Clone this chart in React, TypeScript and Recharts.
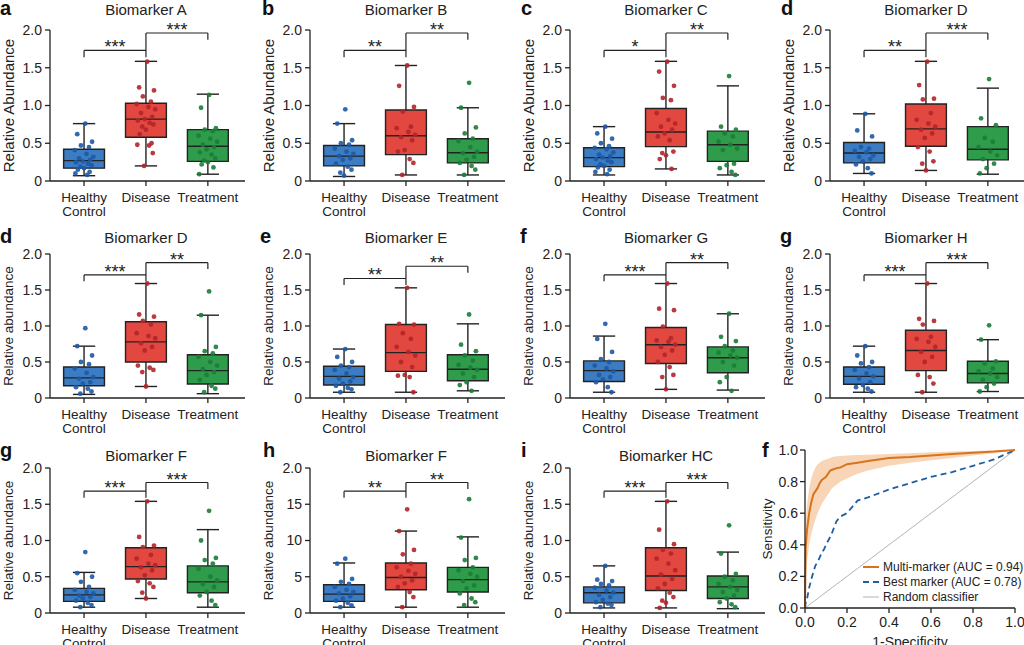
import React from 'react';
import {
  ComposedChart,
  Scatter,
  XAxis,
  YAxis,
  ReferenceArea,
  ReferenceLine,
  Line,
  Area,
  Legend,
} from 'recharts';

// ---------- groups ----------
const GROUPS = ['Healthy Control', 'Disease', 'Treatment'];
const GROUP_FILL = ['#3b7cc2', '#e2483f', '#2f9c4b'];
const GROUP_DOT = ['#1d5aa6', '#b3252a', '#1b7d38'];
const INK = '#222';

// box summaries per group: [low whisker, q1, median, q3, high whisker]
const A_BOX = [[0.07, 0.17, 0.27, 0.42, 0.76], [0.2, 0.58, 0.82, 1.03, 1.585], [0.09, 0.26, 0.46, 0.68, 1.15]];
const A_HC = [0.76, 0.62, 0.52, 0.47, 0.45, 0.41, 0.36, 0.32, 0.3, 0.28, 0.26, 0.25, 0.23, 0.21, 0.19, 0.17, 0.15, 0.12, 0.1, 0.08];
const A_DZ = [1.58, 1.24, 1.2, 1.12, 1.05, 1.02, 0.98, 0.95, 0.9, 0.85, 0.82, 0.8, 0.77, 0.75, 0.72, 0.68, 0.62, 0.5, 0.48, 0.47, 0.37, 0.2];
const A_TX = [1.14, 0.97, 0.7, 0.68, 0.66, 0.6, 0.56, 0.52, 0.48, 0.45, 0.42, 0.38, 0.35, 0.3, 0.27, 0.25, 0.22, 0.18, 0.09];

const B_BOX = [[0.06, 0.2, 0.33, 0.47, 0.76], [0.08, 0.35, 0.6, 0.94, 1.53], [0.08, 0.24, 0.375, 0.56, 0.97]];
const B_HC = [0.95, 0.76, 0.54, 0.5, 0.48, 0.43, 0.39, 0.36, 0.33, 0.3, 0.28, 0.23, 0.19, 0.15, 0.11, 0.07];
const B_DZ = [1.53, 1.26, 0.98, 0.92, 0.72, 0.7, 0.65, 0.61, 0.58, 0.54, 0.41, 0.39, 0.29, 0.24, 0.08];
const B_TX = [1.3, 0.97, 0.71, 0.63, 0.56, 0.53, 0.45, 0.39, 0.37, 0.32, 0.28, 0.24, 0.2, 0.15, 0.08];

const C_BOX = [[0.08, 0.19, 0.31, 0.44, 0.72], [0.16, 0.455, 0.65, 0.96, 1.585], [0.08, 0.26, 0.48, 0.66, 1.26]];
const C_HC = [0.72, 0.63, 0.56, 0.5, 0.46, 0.44, 0.42, 0.38, 0.35, 0.33, 0.31, 0.29, 0.27, 0.25, 0.22, 0.2, 0.18, 0.15, 0.12, 0.09];
const C_DZ = [1.58, 1.45, 1.26, 1.1, 1.07, 0.9, 0.81, 0.76, 0.72, 0.68, 0.63, 0.59, 0.54, 0.39, 0.37, 0.34, 0.29, 0.16];
const C_TX = [1.39, 0.72, 0.68, 0.63, 0.59, 0.52, 0.48, 0.43, 0.41, 0.23, 0.21, 0.17, 0.12, 0.08];

const D1_BOX = [[0.1, 0.24, 0.37, 0.51, 0.89], [0.14, 0.46, 0.69, 1.02, 1.585], [0.09, 0.28, 0.42, 0.72, 1.23]];
const D1_HC = [0.89, 0.67, 0.59, 0.45, 0.43, 0.4, 0.38, 0.34, 0.32, 0.29, 0.26, 0.22, 0.17, 0.1];
const D1_DZ = [1.58, 1.27, 1.09, 1.08, 0.9, 0.81, 0.76, 0.72, 0.68, 0.63, 0.57, 0.45, 0.39, 0.26, 0.23, 0.14];
const D1_TX = [1.35, 0.83, 0.74, 0.57, 0.52, 0.45, 0.39, 0.34, 0.29, 0.23, 0.17, 0.1];

const D2_BOX = [[0.05, 0.17, 0.28, 0.43, 0.72], [0.16, 0.5, 0.78, 1.06, 1.59], [0.06, 0.195, 0.38, 0.6, 1.15]];
const D2_HC = [0.97, 0.72, 0.59, 0.5, 0.47, 0.41, 0.35, 0.29, 0.27, 0.22, 0.2, 0.15, 0.13, 0.09, 0.06];
const D2_DZ = [1.59, 1.16, 1.13, 1.07, 1.02, 0.9, 0.86, 0.83, 0.76, 0.71, 0.66, 0.45, 0.42, 0.39, 0.36, 0.16];
const D2_TX = [1.48, 1.15, 0.71, 0.65, 0.62, 0.57, 0.5, 0.45, 0.4, 0.36, 0.32, 0.25, 0.17, 0.13, 0.08];

const E_BOX = [[0.08, 0.18, 0.3, 0.44, 0.68], [0.08, 0.37, 0.63, 1.02, 1.53], [0.1, 0.24, 0.4, 0.6, 1.03]];
const E_HC = [0.68, 0.57, 0.5, 0.45, 0.43, 0.39, 0.34, 0.29, 0.27, 0.23, 0.2, 0.17, 0.14, 0.12, 0.08];
const E_DZ = [1.53, 1.03, 1.02, 0.9, 0.82, 0.71, 0.64, 0.59, 0.5, 0.43, 0.32, 0.31, 0.29, 0.08];
const E_TX = [1.16, 0.74, 0.65, 0.59, 0.52, 0.46, 0.42, 0.39, 0.34, 0.29, 0.22, 0.18, 0.1];

const G_BOX = [[0.08, 0.23, 0.38, 0.515, 0.86], [0.12, 0.48, 0.74, 0.98, 1.59], [0.11, 0.35, 0.56, 0.71, 1.17]];
const G_HC = [1.03, 0.82, 0.64, 0.54, 0.5, 0.45, 0.41, 0.37, 0.32, 0.29, 0.26, 0.22, 0.15, 0.08];
const G_DZ = [1.59, 1.24, 1.22, 0.99, 0.83, 0.8, 0.78, 0.74, 0.71, 0.66, 0.6, 0.5, 0.43, 0.32, 0.29, 0.12];
const G_TX = [1.17, 0.85, 0.79, 0.72, 0.66, 0.63, 0.59, 0.56, 0.5, 0.45, 0.29, 0.22, 0.1];

const H_BOX = [[0.08, 0.19, 0.3, 0.43, 0.72], [0.08, 0.38, 0.66, 0.94, 1.59], [0.09, 0.21, 0.34, 0.51, 0.81]];
const H_HC = [0.72, 0.59, 0.5, 0.48, 0.43, 0.39, 0.34, 0.3, 0.27, 0.22, 0.18, 0.15, 0.13, 0.09];
const H_DZ = [1.59, 1.1, 1.07, 1.02, 0.85, 0.82, 0.78, 0.71, 0.64, 0.57, 0.5, 0.32, 0.29, 0.2, 0.08];
const H_TX = [1.01, 0.81, 0.51, 0.48, 0.41, 0.37, 0.34, 0.29, 0.25, 0.2, 0.15, 0.09];

const F1_BOX = [[0.08, 0.16, 0.25, 0.34, 0.56], [0.2, 0.47, 0.64, 0.9, 1.54], [0.08, 0.28, 0.43, 0.65, 1.15]];
const F1_HC = [0.84, 0.55, 0.5, 0.43, 0.36, 0.32, 0.29, 0.27, 0.24, 0.22, 0.2, 0.17, 0.14, 0.11, 0.08];
const F1_DZ = [1.54, 1.05, 0.93, 0.91, 0.8, 0.75, 0.68, 0.66, 0.63, 0.59, 0.52, 0.44, 0.41, 0.36, 0.28, 0.2];
const F1_TX = [1.41, 1.0, 0.76, 0.73, 0.68, 0.61, 0.5, 0.45, 0.4, 0.36, 0.29, 0.24, 0.17, 0.11];

const F2_BOX = [[0.8, 1.6, 2.6, 3.9, 6.9], [0.8, 3.2, 4.9, 6.9, 11.3], [0.8, 2.9, 4.6, 6.3, 10.5]];
const F2_HC = [7.5, 6.8, 4.7, 4.3, 4.0, 3.6, 3.2, 2.9, 2.7, 2.3, 2.0, 1.7, 1.4, 1.05, 0.8];
const F2_DZ = [14.3, 11.3, 8.7, 8.1, 6.8, 6.3, 5.8, 5.4, 5.0, 4.5, 4.1, 3.6, 2.9, 2.2, 0.8];
const F2_TX = [15.7, 10.4, 7.6, 7.3, 6.3, 5.9, 5.4, 5.0, 4.4, 3.8, 3.4, 2.7, 2.0, 1.5, 1.1];

const HC_BOX = [[0.07, 0.14, 0.28, 0.36, 0.65], [0.07, 0.31, 0.51, 0.9, 1.54], [0.06, 0.2, 0.36, 0.51, 0.84]];
const HC_HC = [0.65, 0.46, 0.44, 0.4, 0.38, 0.35, 0.31, 0.28, 0.25, 0.22, 0.18, 0.15, 0.13, 0.11, 0.08];
const HC_DZ = [1.54, 1.15, 0.95, 0.87, 0.82, 0.75, 0.68, 0.59, 0.53, 0.47, 0.4, 0.34, 0.28, 0.22, 0.17, 0.14, 0.07];
const HC_TX = [1.21, 0.82, 0.54, 0.5, 0.45, 0.4, 0.36, 0.32, 0.29, 0.24, 0.2, 0.15, 0.12, 0.08];

// y ticks
const TICKS_REL = [0, 0.5, 1, 1.5, 2];
const TICKS_F2 = [0, 5, 10, 15, 20];
const fmtRel = (v: number) => (v === 0 ? '0' : v.toFixed(1));
const fmtF2 = (v: number) => (v === 20 ? '2.0' : String(v));

// ---------- ROC curves ----------
const ROC_FPR = [0, 0.003, 0.01, 0.02, 0.03, 0.04, 0.05, 0.06, 0.07, 0.08, 0.09, 0.1, 0.12, 0.13, 0.15, 0.17, 0.2, 0.25, 0.3, 0.4, 0.5, 0.6, 0.7, 0.8, 0.9, 1];
const MULTI_TPR = [0, 0.38, 0.5, 0.6, 0.67, 0.72, 0.74, 0.76, 0.79, 0.81, 0.82, 0.83, 0.87, 0.875, 0.885, 0.89, 0.91, 0.92, 0.93, 0.95, 0.955, 0.965, 0.975, 0.983, 0.99, 1];
const MULTI_LO = [0, 0.2, 0.3, 0.4, 0.47, 0.52, 0.56, 0.6, 0.63, 0.66, 0.68, 0.7, 0.74, 0.76, 0.78, 0.8, 0.82, 0.85, 0.87, 0.9, 0.92, 0.935, 0.95, 0.965, 0.98, 1];
const MULTI_HI = [0, 0.55, 0.66, 0.76, 0.82, 0.86, 0.89, 0.91, 0.92, 0.93, 0.935, 0.94, 0.95, 0.955, 0.96, 0.962, 0.965, 0.968, 0.97, 0.975, 0.98, 0.985, 0.99, 0.993, 0.997, 1];
const BEST_TPR = [0, 0.03, 0.06, 0.13, 0.18, 0.23, 0.27, 0.29, 0.32, 0.35, 0.37, 0.4, 0.45, 0.48, 0.55, 0.58, 0.6, 0.68, 0.7, 0.75, 0.79, 0.83, 0.86, 0.9, 0.94, 1];
const ROC_TICKS = [0, 0.2, 0.4, 0.6, 0.8, 1];
const ROC_NAMES = ['Multi-marker (AUC = 0.94)', 'Best marker (AUC = 0.78)', 'Random classifier'];

// ---------- layout ----------
const FONT = '"Liberation Sans", Arial, Helvetica, sans-serif';
const PANEL_W = 260;
const ROWS = [
  { top: 0, mt: 30, plotH: 151, labelSize: 15, titleY: 15, letterY: 15 },
  { top: 215, mt: 39, plotH: 144, labelSize: 13.5, titleY: 243, letterY: 243 },
  { top: 430, mt: 38, plotH: 145, labelSize: 13.5, titleY: 461, letterY: 457 },
];
const LETTER_X = [[0, 262, 521, 781], [0, 260, 520, 780], [0, 263, 521, 762]];
const JITTER = [0.02, -0.11, 0.13, -0.05, 0.08, -0.15, 0.04, 0.15, -0.08, 0.1, -0.02, -0.13, 0.06, 0.12, -0.06, 0.0, -0.1, 0.09, -0.14, 0.05, 0.11, -0.03];
const BOX_HALF = 0.33;
const CAP_HALF = 0.18;

type Panel = {
  letter: string;
  title: string;
  yLabel: string;
  row: number;
  col: number;
  box: number[][];
  pts: number[][];
  stars: [string, string];
  brackets: [number, number];
  yMax: number;
  ticks: number[];
  fmt: (v: number) => string;
};

const PANELS: Panel[] = [
  { letter: 'a', title: 'Biomarker A', yLabel: 'Relative Abundance', row: 0, col: 0, box: A_BOX, pts: [A_HC, A_DZ, A_TX], stars: ['***', '***'], brackets: [1.73, 1.96], yMax: 2, ticks: TICKS_REL, fmt: fmtRel },
  { letter: 'b', title: 'Biomarker B', yLabel: 'Relative Abundance', row: 0, col: 1, box: B_BOX, pts: [B_HC, B_DZ, B_TX], stars: ['**', '**'], brackets: [1.73, 1.96], yMax: 2, ticks: TICKS_REL, fmt: fmtRel },
  { letter: 'c', title: 'Biomarker C', yLabel: 'Relative Abundance', row: 0, col: 2, box: C_BOX, pts: [C_HC, C_DZ, C_TX], stars: ['*', '**'], brackets: [1.73, 1.96], yMax: 2, ticks: TICKS_REL, fmt: fmtRel },
  { letter: 'd', title: 'Biomarker D', yLabel: 'Relative Abundance', row: 0, col: 3, box: D1_BOX, pts: [D1_HC, D1_DZ, D1_TX], stars: ['**', '***'], brackets: [1.73, 1.96], yMax: 2, ticks: TICKS_REL, fmt: fmtRel },
  { letter: 'd', title: 'Biomarker D', yLabel: 'Relative abundance', row: 1, col: 0, box: D2_BOX, pts: [D2_HC, D2_DZ, D2_TX], stars: ['***', '**'], brackets: [1.71, 1.88], yMax: 2, ticks: TICKS_REL, fmt: fmtRel },
  { letter: 'e', title: 'Biomarker E', yLabel: 'Relative abundance', row: 1, col: 1, box: E_BOX, pts: [E_HC, E_DZ, E_TX], stars: ['**', '**'], brackets: [1.66, 1.83], yMax: 2, ticks: TICKS_REL, fmt: fmtRel },
  { letter: 'f', title: 'Biomarker G', yLabel: 'Relative abundance', row: 1, col: 2, box: G_BOX, pts: [G_HC, G_DZ, G_TX], stars: ['***', '**'], brackets: [1.71, 1.88], yMax: 2, ticks: TICKS_REL, fmt: fmtRel },
  { letter: 'g', title: 'Biomarker H', yLabel: 'Relative abundance', row: 1, col: 3, box: H_BOX, pts: [H_HC, H_DZ, H_TX], stars: ['***', '***'], brackets: [1.71, 1.88], yMax: 2, ticks: TICKS_REL, fmt: fmtRel },
  { letter: 'g', title: 'Biomarker F', yLabel: 'Relative abundance', row: 2, col: 0, box: F1_BOX, pts: [F1_HC, F1_DZ, F1_TX], stars: ['***', '***'], brackets: [1.68, 1.8], yMax: 2, ticks: TICKS_REL, fmt: fmtRel },
  { letter: 'h', title: 'Biomarker F', yLabel: 'Relative abundance', row: 2, col: 1, box: F2_BOX, pts: [F2_HC, F2_DZ, F2_TX], stars: ['**', '**'], brackets: [16.8, 18], yMax: 20, ticks: TICKS_F2, fmt: fmtF2 },
  { letter: 'i', title: 'Biomarker HC', yLabel: 'Relative abundance', row: 2, col: 2, box: HC_BOX, pts: [HC_HC, HC_DZ, HC_TX], stars: ['***', '***'], brackets: [1.68, 1.8], yMax: 2, ticks: TICKS_REL, fmt: fmtRel },
];

function GroupTick(props: any) {
  const { x, y, payload } = props;
  const words = GROUPS[payload.value].split(' ');
  return (
    <text x={x} y={y} textAnchor="middle" fontSize={13.5} fill={INK}>
      {words.map((w, k) => (
        <tspan key={k} x={x} dy={k === 0 ? 14 : 13.5}>
          {w}
        </tspan>
      ))}
    </text>
  );
}

const seg = (x1: number, y1: number, x2: number, y2: number) => [
  { x: x1, y: y1 },
  { x: x2, y: y2 },
];

function BoxPanel({ p }: { p: Panel }) {
  const R = ROWS[p.row];
  const drop = 0.09 * (p.yMax / 2);
  const [lowB, highB] = p.brackets;
  const starLabel = (v: string) => ({ value: v, position: 'top' as const, offset: -3, fill: INK, fontSize: 18 });
  const line = { stroke: INK, strokeWidth: 1.4 };

  return (
    <div style={{ position: 'absolute', left: p.col * PANEL_W, top: R.top }}>
      <ComposedChart
        width={PANEL_W}
        height={R.mt + R.plotH + 45}
        margin={{ top: R.mt, right: 15, bottom: 0, left: 0 }}
      >
        <XAxis
          type="number"
          dataKey="x"
          domain={[-0.55, 2.6]}
          ticks={[0, 1, 2]}
          allowDataOverflow
          interval={0}
          height={45}
          tickSize={5}
          tick={<GroupTick />}
          axisLine={{ stroke: INK, strokeWidth: 1.3 }}
          tickLine={{ stroke: INK, strokeWidth: 1.3 }}
        />
        <YAxis
          type="number"
          dataKey="y"
          domain={[0, p.yMax]}
          ticks={p.ticks}
          allowDataOverflow
          interval={0}
          width={50}
          tickSize={5}
          tickMargin={3}
          tickFormatter={p.fmt}
          tick={{ fontSize: 14, fill: INK }}
          axisLine={{ stroke: INK, strokeWidth: 1.3 }}
          tickLine={{ stroke: INK, strokeWidth: 1.3 }}
          label={{
            value: p.yLabel,
            angle: -90,
            position: 'insideLeft',
            offset: 8.5,
            style: { textAnchor: 'middle', fontSize: R.labelSize, fill: INK },
          }}
        />

        {p.box.map((b, g) => (
          <ReferenceArea
            key={`box${g}`}
            x1={g - BOX_HALF}
            x2={g + BOX_HALF}
            y1={b[1]}
            y2={b[3]}
            fill={GROUP_FILL[g]}
            fillOpacity={1}
            stroke={INK}
            strokeWidth={1.4}
          />
        ))}
        {p.box.map((b, g) => (
          <ReferenceLine key={`wl${g}`} segment={seg(g, b[0], g, b[1])} {...line} />
        ))}
        {p.box.map((b, g) => (
          <ReferenceLine key={`wh${g}`} segment={seg(g, b[3], g, b[4])} {...line} />
        ))}
        {p.box.map((b, g) => (
          <ReferenceLine key={`cl${g}`} segment={seg(g - CAP_HALF, b[0], g + CAP_HALF, b[0])} {...line} />
        ))}
        {p.box.map((b, g) => (
          <ReferenceLine key={`ch${g}`} segment={seg(g - CAP_HALF, b[4], g + CAP_HALF, b[4])} {...line} />
        ))}
        {p.box.map((b, g) => (
          <ReferenceLine key={`md${g}`} segment={seg(g - BOX_HALF, b[2], g + BOX_HALF, b[2])} {...line} />
        ))}

        {/* significance brackets */}
        <ReferenceLine segment={seg(0, lowB - drop, 0, lowB)} {...line} strokeWidth={1.2} />
        <ReferenceLine segment={seg(0, lowB, 1, lowB)} {...line} strokeWidth={1.2} label={starLabel(p.stars[0])} />
        <ReferenceLine segment={seg(1, lowB - drop, 1, highB)} {...line} strokeWidth={1.2} />
        <ReferenceLine segment={seg(1, highB, 2, highB)} {...line} strokeWidth={1.2} label={starLabel(p.stars[1])} />
        <ReferenceLine segment={seg(2, highB - drop, 2, highB)} {...line} strokeWidth={1.2} />

        {p.pts.map((vals, g) => (
          <Scatter
            key={`pts${g}`}
            data={vals.map((v, j) => ({ x: g + JITTER[j % JITTER.length], y: v }))}
            isAnimationActive={false}
            shape={(s: any) => <circle cx={s.cx} cy={s.cy} r={2.4} fill={GROUP_DOT[g]} fillOpacity={0.9} />}
          />
        ))}
      </ComposedChart>
    </div>
  );
}

const ROC_ROWS = ROC_FPR.map((f, i) => ({
  fpr: f,
  multi: MULTI_TPR[i],
  band: [MULTI_LO[i], MULTI_HI[i]],
  best: BEST_TPR[i],
  chance: f,
}));

function RocLegend(props: any) {
  const items = (props.payload || [])
    .filter((it: any) => ROC_NAMES.includes(it.value))
    .sort((a: any, b: any) => ROC_NAMES.indexOf(a.value) - ROC_NAMES.indexOf(b.value));
  return (
    <div style={{ fontSize: 12, color: INK, fontFamily: FONT }}>
      {items.map((it: any) => (
        <div key={it.value} style={{ display: 'flex', alignItems: 'center', height: 15, whiteSpace: 'nowrap' }}>
          <svg width={16} height={6} style={{ marginRight: 4 }}>
            <line
              x1={0}
              y1={3}
              x2={16}
              y2={3}
              stroke={it.color}
              strokeWidth={it.payload?.strokeWidth ?? 1.5}
              strokeDasharray={it.payload?.strokeDasharray}
            />
          </svg>
          <span>{it.value}</span>
        </div>
      ))}
    </div>
  );
}

function RocPanel() {
  return (
    <div style={{ position: 'absolute', left: 760, top: 430 }}>
      <ComposedChart width={264} height={218} data={ROC_ROWS} margin={{ top: 20, right: 9, bottom: 0, left: 0 }}>
        <XAxis
          type="number"
          dataKey="fpr"
          domain={[0, 1]}
          ticks={ROC_TICKS}
          interval={0}
          height={40}
          tickSize={5}
          tickMargin={4}
          tickFormatter={(v: number) => v.toFixed(1)}
          tick={{ fontSize: 14, fill: INK }}
          axisLine={{ stroke: INK, strokeWidth: 1.3 }}
          tickLine={{ stroke: INK, strokeWidth: 1.3 }}
          label={{ value: '1-Specificity', position: 'insideBottom', offset: 1, style: { fontSize: 14, fill: INK } }}
        />
        <YAxis
          type="number"
          domain={[0, 1]}
          ticks={ROC_TICKS}
          interval={0}
          width={45}
          tickSize={5}
          tickFormatter={(v: number) => v.toFixed(1)}
          tick={{ fontSize: 14, fill: INK }}
          axisLine={{ stroke: INK, strokeWidth: 1.3 }}
          tickLine={{ stroke: INK, strokeWidth: 1.3 }}
          label={{
            value: 'Sensitivity',
            angle: -90,
            position: 'insideLeft',
            offset: 7,
            style: { textAnchor: 'middle', fontSize: 13.5, fill: INK },
          }}
        />
        <Area dataKey="band" stroke="none" fill="#f2b27a" fillOpacity={0.55} isAnimationActive={false} legendType="none" />
        <Line dataKey="chance" name={ROC_NAMES[2]} stroke="#b3b3b3" strokeWidth={1} dot={false} isAnimationActive={false} />
        <Line dataKey="best" name={ROC_NAMES[1]} stroke="#1f5f9e" strokeWidth={1.8} strokeDasharray="6 4" dot={false} isAnimationActive={false} />
        <Line dataKey="multi" name={ROC_NAMES[0]} stroke="#d8731e" strokeWidth={2} dot={false} isAnimationActive={false} />
        <Legend
          layout="vertical"
          align="center"
          verticalAlign="middle"
          content={<RocLegend />}
          wrapperStyle={{ left: 103, top: 129, width: 'auto' }}
        />
      </ComposedChart>
    </div>
  );
}

export default function App() {
  return (
    <div
      style={{
        position: 'absolute',
        left: 0,
        top: 0,
        width: 1024,
        height: 645,
        overflow: 'hidden',
        background: '#fff',
        fontFamily: FONT,
      }}
    >
      {PANELS.map((p, i) => (
        <BoxPanel key={i} p={p} />
      ))}
      <RocPanel />
      <svg width={1024} height={645} style={{ position: 'absolute', left: 0, top: 0, pointerEvents: 'none' }}>
        {PANELS.map((p, i) => (
          <text key={`t${i}`} x={p.col * PANEL_W + 146} y={ROWS[p.row].titleY} textAnchor="middle" fontSize={15} fill={INK}>
            {p.title}
          </text>
        ))}
        {PANELS.map((p, i) => (
          <text key={`l${i}`} x={LETTER_X[p.row][p.col]} y={ROWS[p.row].letterY} fontSize={20} fontWeight="bold" fill="#111">
            {p.letter}
          </text>
        ))}
        <text x={LETTER_X[2][3]} y={ROWS[2].letterY} fontSize={20} fontWeight="bold" fill="#111">
          f
        </text>
      </svg>
    </div>
  );
}
